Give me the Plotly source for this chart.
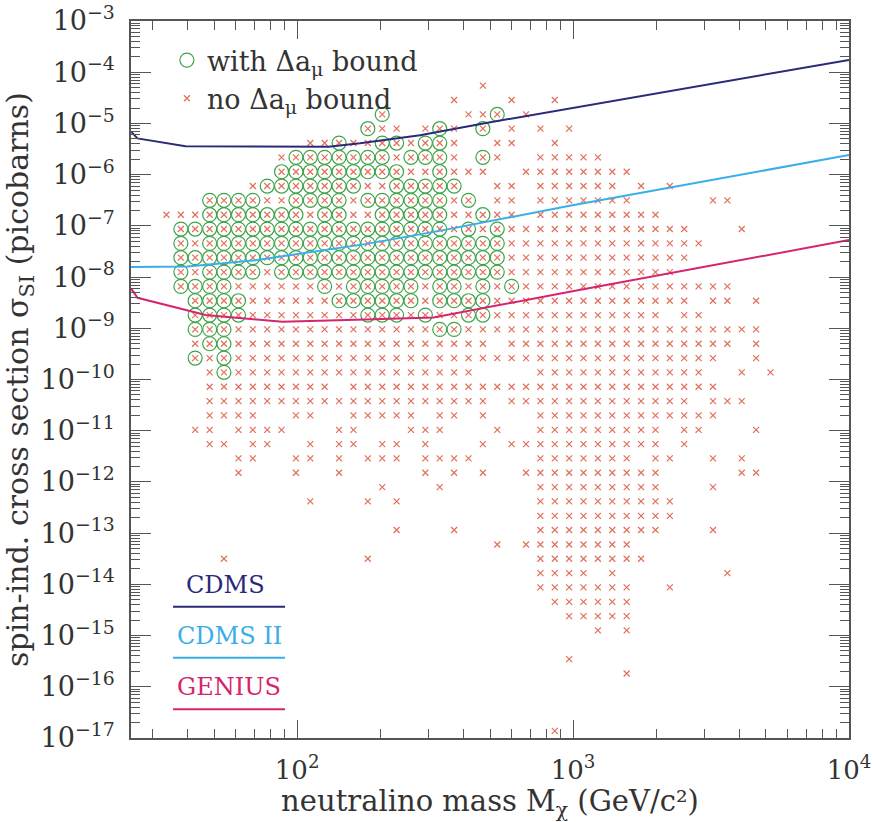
import plotly.graph_objects as go

# ---------------- data ----------------
# neutralino masses of the scan grid columns (GeV/c^2)
mass_cols = [33.6, 37.9, 42.7, 48.2, 54.3, 61.3, 69.1, 77.9, 87.8, 99.0,
             111.6, 125.8, 141.9, 160.0, 180.4, 203.4, 229.3, 258.5, 291.5, 328.7,
             370.6, 417.8, 471.1, 531.2, 598.9, 675.3, 761.4, 858.5, 967.9, 1091,
             1230, 1387, 1564, 1764, 1989, 2242, 2528, 2851, 3214, 3624,
             4086, 4607, 5195]

# cross sections of the scan grid rows (picobarns), top to bottom
sigma_rows = [5.46e-5, 2.87e-5, 1.50e-5, 7.90e-6, 4.14e-6, 2.18e-6, 1.14e-6, 5.99e-7,
              3.15e-7, 1.65e-7, 8.67e-8, 4.55e-8, 2.39e-8, 1.25e-8, 6.58e-9, 3.45e-9,
              1.81e-9, 9.51e-10, 4.99e-10, 2.62e-10, 1.38e-10, 7.22e-11, 3.79e-11,
              1.99e-11, 1.04e-11, 5.48e-12, 2.88e-12, 1.51e-12, 7.93e-13, 4.16e-13,
              2.18e-13, 1.15e-13, 6.01e-14, 3.16e-14, 1.66e-14, 8.70e-15, 4.56e-15,
              2.40e-15, 1.26e-15, 6.60e-16, 3.46e-16, 1.82e-16, 9.54e-17, 5.01e-17,
              2.63e-17, 1.38e-17]

# occupancy of each grid row:  '.' empty, 'x' no-bound point, 'o' point that also passes the bound
grid_rows = [
    ".......... .......... ..x....... .......... ...",
    ".......... .......... x...x..x.. .......... ...",
    ".......... .....o.... .xxo.x.... .......... ...",
    ".......... ....oxx.xo x.o.x.x.x. .......... ...",
    ".......... xxoxxooxoo x..xx..x.. .......... ...",
    "........xo ooooooxooo x.ox..xxxx x......... ...",
    "........oo oooooooxxo xxx..xxxxx xxx....... ...",
    "......xooo ooooxxoooo o..xx.xxxx xx.x.x.... ...",
    "...ooooxxo oooxoooooo xo.xx.xxxx xxx.....xx ...",
    "xxxooooooo xooxxooooo xxoxx.xxxx xxxxx..... ...",
    ".ooooooooo oooooooooo xoxoxxxxxx xxxxxxx... x..",
    ".oxooooooo oooooooooo ooooxxxxxx xxxxxxxx.. ...",
    ".ooooooooo oooooooooo ooooxxxxxx xxxxxxx... ...",
    ".oxooooxoo oooooooooo ooooxxxxxx xxxxxx.... ...",
    ".ooooxxxxx xoxoooooxo oxoxoxxxxx xxxxxxxxxx ...",
    "..ooooxxxx xxooooooxo oooxxxxxxx xxxxxxx.xx .x.",
    "..ooooxxxx xxxxoooxox xooxxxxxxx xxxxx.xx.. ...",
    "..oooxxxxx xxxxxxxxxo oxxxxxxxxx xxxxxxxxxx xx.",
    "..xooxxxxx xxxxxxxxxx xxx.xxxxxx xxxxxxxxxx .x.",
    "..oxoxxxxx xxxxxxxxxx xxxxxxxxxx xxxxxxxxx. .x.",
    "...xoxxxxx xxxxxxxxxx xx....xxxx xxxxxxxx.. x.x",
    "...xxxxxxx xx.xxxxxxx xxxxxxxxxx xxxxxxxxx. ...",
    "...xxxxxxx xxxxxxxxxx xxx.xxxxxx xxxxxxx.xx x..",
    "...xxxx..x x..xxxxx.x x.x...xxxx xxxxxxxxx. ...",
    "..xx.xxxx. ..xx...xxx ...x..xxxx xxxxx.xx.. .x.",
    "...xx.xx.. x.xx.xx.x. ..x.xxxxxx xxxxx.x... ...",
    ".....xx..x x.x.xxx.xx xx....xxxx xxx.xx..x. x..",
    ".....x...x ..x.....x. x.x..xxxxx xxxxx..... xx.",
    ".......... .....x...x ......xxxx xxxxx...x. ...",
    ".......... x...x.x... ......xxxx xxxxxx.... ...",
    ".......... .......... ......xxxx xxxxxx.... ...",
    ".......... ......x... x.....xxxx xxxxx...x. ...",
    ".......... .......... ...x.xxxxx xxx....... ...",
    "....x..... ....x..... ......xxxx xxxx...... ...",
    ".......... .......... ......xxxx .x.......x ...",
    ".......... .......... ......xxxx xxx..x.... ...",
    ".......... .......... .......xxx xxx....... ...",
    ".......... .......... ........xx xxx....... ...",
    ".......... .......... .......... x.x....... ...",
    ".......... .......... .......... .......... ...",
    ".......... .......... ........x. .......... ...",
    ".......... .......... .......... ..x....... ...",
    ".......... .......... .......... .......... ...",
    ".......... .......... .......... .......... ...",
    ".......... .......... .......... .......... ...",
    ".......... .......... .......x.. .......... ...",
]

# exclusion / sensitivity curves
cdms_mass = [25, 26.4, 39.4, 130, 169, 279, 473, 973, 10000]
cdms_sigma = [6.9e-6, 5.1e-6, 3.6e-6, 3.5e-6, 4.1e-6, 5.9e-6, 1.0e-5, 1.97e-5, 1.73e-4]

cdms2_mass = [25, 40, 70.6, 176.5, 339, 973, 10000]
cdms2_sigma = [1.58e-8, 1.6e-8, 2.14e-8, 4.4e-8, 8.26e-8, 2.47e-7, 2.41e-6]

genius_mass = [25, 26.4, 46.6, 88.3, 176.5, 312, 973, 5585, 10000]
genius_sigma = [6.0e-9, 3.94e-9, 1.81e-9, 1.34e-9, 1.49e-9, 1.63e-9, 5.15e-9, 2.98e-8, 5.27e-8]

curve_names = ["CDMS", "CDMS II", "GENIUS"]
curve_colors = ["#2b2a78", "#3aaee8", "#d6246e"]

x_tick_vals = [1e2, 1e3, 1e4]
x_tick_text = ["10<sup>2</sup>", "10<sup>3</sup>", "10<sup>4</sup>"]
y_tick_vals = [10.0 ** e for e in range(-17, -2)]
y_tick_text = ["10<sup>\u2212%d</sup>" % (-e) for e in range(-17, -2)]

# ---------------- build point lists ----------------
xs_all, ys_all, xs_c, ys_c = [], [], [], []
for sig, row in zip(sigma_rows, grid_rows):
    cells = row.replace(" ", "")
    assert len(cells) == len(mass_cols)
    for m, ch in zip(mass_cols, cells):
        if ch in "xo":
            xs_all.append(m)
            ys_all.append(sig)
        if ch == "o":
            xs_c.append(m)
            ys_c.append(sig)

FONT = "DejaVu Serif"
TXT = "#333333"
fig = go.Figure()

fig.add_trace(go.Scatter(
    x=xs_c, y=ys_c, mode="markers", name="with \u0394a<sub>\u03bc</sub> bound",
    marker=dict(symbol="circle-open", size=14, color="#3ca548", line=dict(width=1.2, color="#3ca548")),
))
fig.add_trace(go.Scatter(
    x=xs_all, y=ys_all, mode="markers", name="no \u0394a<sub>\u03bc</sub> bound",
    marker=dict(symbol="x-thin", size=6, line=dict(width=1.2, color="#e0705a"), color="#e0705a"),
))

for name, xm, ys, col in zip(curve_names, [cdms_mass, cdms2_mass, genius_mass],
                             [cdms_sigma, cdms2_sigma, genius_sigma], curve_colors):
    fig.add_trace(go.Scatter(x=xm, y=ys, mode="lines", name=name, showlegend=False,
                             line=dict(color=col, width=2)))

# label block bottom-left
label_pos = [(0.131, 0.2134, 0.1831), (0.137, 0.1423, 0.112), (0.137, 0.0711, 0.040)]
for name, col, (tx, ty, ly) in zip(curve_names, curve_colors, label_pos):
    fig.add_annotation(x=tx, y=ty, xref="paper", yref="paper", text=name, showarrow=False,
                       font=dict(family=FONT, size=24, color=col), xanchor="center", yanchor="middle")
    fig.add_shape(type="line", xref="paper", yref="paper", x0=0.0585, x1=0.2145, y0=ly, y1=ly,
                  line=dict(color=col, width=2))

minor_x = [k * 10.0 ** e for e in range(1, 4) for k in range(2, 10)]
minor_y = [k * 10.0 ** e for e in range(-17, -3) for k in range(2, 10)]

axis_common = dict(type="log", showgrid=False, zeroline=False, showline=True, linecolor="#555555",
                   linewidth=1.5, mirror="ticks", ticks="inside", tickcolor="#555555", tickwidth=1.2,
                   automargin=False)

fig.update_xaxes(**axis_common, range=[1.39794, 4.0], tickmode="array", tickvals=x_tick_vals,
                 ticktext=x_tick_text, ticklen=18, ticklabelstandoff=8,
                 tickfont=dict(family=FONT, size=26, color=TXT),
                 minor=dict(tickmode="array", tickvals=minor_x, ticks="inside", ticklen=9,
                            tickcolor="#555555", tickwidth=1.2, showgrid=False),
                 title=dict(text="neutralino mass M<sub>\u03c7</sub> (GeV/c\u00b2)",
                            font=dict(family=FONT, size=29, color=TXT), standoff=9))
fig.update_yaxes(**axis_common, range=[-17, -3], tickmode="array", tickvals=y_tick_vals,
                 ticktext=y_tick_text, ticklen=20, ticklabelstandoff=9,
                 tickfont=dict(family=FONT, size=27, color=TXT),
                 minor=dict(tickmode="array", tickvals=minor_y, ticks="inside", ticklen=9,
                            tickcolor="#555555", tickwidth=1.2, showgrid=False),
                 title=dict(text="spin-ind. cross section \u03c3<sub>SI</sub> (picobarns)",
                            font=dict(family=FONT, size=30, color=TXT), standoff=6))

fig.update_layout(
    width=873, height=822, margin=dict(l=131, r=24, t=21, b=84),
    paper_bgcolor="white", plot_bgcolor="white",
    legend=dict(x=0.05, y=0.979, xanchor="left", yanchor="top", bgcolor="rgba(0,0,0,0)",
                font=dict(family=FONT, size=27, color=TXT), tracegroupgap=0),
)

fig.write_html("out.html")
